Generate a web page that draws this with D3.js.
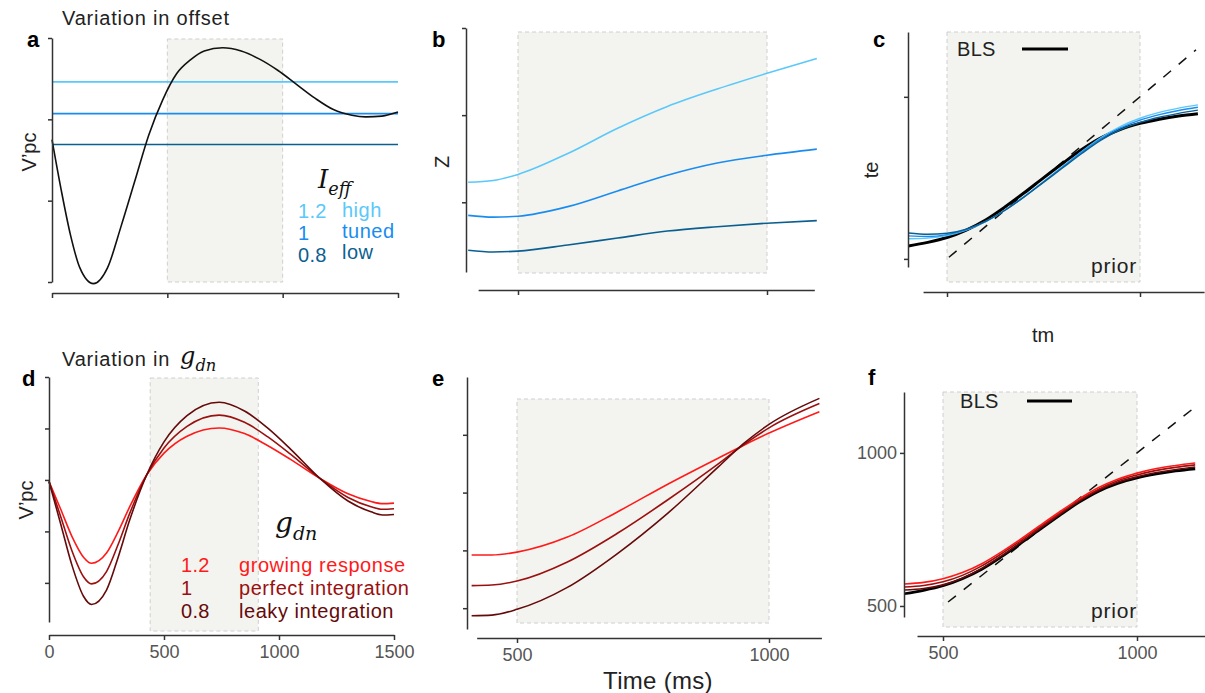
<!DOCTYPE html>
<html>
<head>
<meta charset="utf-8">
<script src="https://cdn.jsdelivr.net/npm/d3@7"></script>
<style>
  body { margin: 0; background: #fff; }
  text { font-family: "Liberation Sans", Arial, sans-serif; }
</style>
</head>
<body>
<svg id="fig" width="1205" height="693"></svg>
<script>
// ---- data ----
var prior = [500, 1000];
var priorD = [440, 910];

// a: V'pc trace and offset lines
var tA = [0, 40, 80, 120, 180, 240, 300, 360, 420, 480, 540, 600, 660, 740, 820, 900, 980, 1060, 1140, 1220, 1300, 1360, 1430, 1500];
var vpcA = [1.75, 1.13, 0.58, 0.18, -0.02, 0.17, 0.69, 1.25, 1.81, 2.24, 2.56, 2.73, 2.84, 2.88, 2.84, 2.74, 2.60, 2.43, 2.26, 2.12, 2.05, 2.03, 2.04, 2.09];
var ieffLevels = ["1.2", "1", "0.8"];
var ieffNames = ["high", "tuned", "low"];
var offsetA = [2.46, 2.07, 1.69];

// b: Z over time for each I_eff
var tB = [400, 450, 500, 600, 700, 800, 900, 1000, 1100];
var zHigh = [1.23, 1.25, 1.32, 1.56, 1.85, 2.10, 2.30, 2.48, 2.65];
var zTuned = [0.85, 0.83, 0.84, 0.95, 1.13, 1.31, 1.45, 1.54, 1.61];
var zLow = [0.45, 0.43, 0.44, 0.51, 0.59, 0.67, 0.72, 0.76, 0.79];

// c, f: te vs tm
var tm = [400, 450, 500, 550, 600, 650, 700, 750, 800, 850, 900, 950, 1000, 1050, 1100, 1150];
var teBLS = [540, 551, 566, 589, 620, 660, 704, 750, 795, 838, 874, 900, 918, 931, 941, 948];
var teHigh = [562, 564, 572, 589, 615, 650, 692, 738, 785, 832, 875, 909, 934, 952, 965, 975];
var teTuned = [571, 569, 575, 590, 615, 650, 692, 738, 784, 830, 872, 904, 928, 945, 958, 968];
var teLow = [580, 576, 579, 592, 616, 650, 691, 736, 781, 826, 867, 899, 921, 937, 949, 959];
var teGrow = [572, 577, 589, 609, 638, 676, 718, 763, 807, 849, 886, 914, 934, 949, 959, 967];
var tePerfect = [562, 567, 579, 600, 631, 670, 713, 758, 802, 845, 881, 909, 928, 943, 953, 961];
var teLeaky = [552, 557, 569, 591, 623, 663, 707, 753, 798, 841, 877, 904, 922, 936, 946, 954];
var identity = [505, 1145];

// d: V'pc for each g_dn
var tD = [0, 50, 100, 150, 185, 250, 300, 350, 425, 500, 600, 740, 850, 950, 1050, 1178, 1300, 1400, 1450, 1500];
var vGrow = [-0.03, -0.56, -1.10, -1.50, -1.62, -1.42, -1.01, -0.53, 0.10, 0.52, 0.85, 1.01, 0.90, 0.67, 0.40, 0.03, -0.27, -0.42, -0.46, -0.45];
var vPerfect = [-0.03, -0.70, -1.38, -1.88, -2.02, -1.78, -1.26, -0.66, 0.10, 0.62, 1.04, 1.26, 1.12, 0.84, 0.50, 0.03, -0.34, -0.52, -0.57, -0.56];
var vLeaky = [-0.03, -0.84, -1.66, -2.26, -2.42, -2.14, -1.51, -0.79, 0.10, 0.74, 1.25, 1.51, 1.34, 1.01, 0.60, 0.03, -0.41, -0.62, -0.68, -0.67];
var gdnLevels = ["1.2", "1", "0.8"];
var gdnNames = ["growing response", "perfect integration", "leaky integration"];

// e: Z over time for each g_dn
var tE = [410, 450, 500, 600, 700, 800, 900, 950, 1000, 1100];
var eGrow = [1.92, 1.92, 1.97, 2.23, 2.67, 3.15, 3.60, 3.82, 4.03, 4.40];
var ePerfect = [1.39, 1.40, 1.47, 1.80, 2.30, 2.88, 3.50, 3.83, 4.12, 4.54];
var eLeaky = [0.87, 0.88, 0.98, 1.36, 1.95, 2.65, 3.45, 3.85, 4.18, 4.63];

var blues = ["#5ac8fa", "#1a8cf0", "#0b5f90"];
var reds = ["#ff1a1a", "#9a1010", "#650a0a"];

// ---- drawing ----
var svg = d3.select("#fig");
var axisColor = "#333";

function shade(x, dom, top, bottom) {
    svg.append("rect")
        .attr("x", x(dom[0])).attr("y", top)
        .attr("width", x(dom[1]) - x(dom[0])).attr("height", bottom - top)
        .style("fill", "#f3f4ef")
        .style("stroke", "#cfcfcf")
        .style("stroke-dasharray", "4,3")
        .style("stroke-width", 1);
}

function styleAxis(g) {
    g.selectAll("path, line").style("stroke", axisColor).style("stroke-width", 1.5);
    g.selectAll("text").style("fill", "#555").style("font-size", "18px");
}

function yAxis(y, xpos, ticks, labels) {
    var ax = d3.axisLeft(y).tickValues(ticks).tickSize(4).tickSizeOuter(0)
        .tickFormat(labels ? d3.format("d") : "");
    var g = svg.append("g").attr("transform", "translate(" + xpos + ",0)").call(ax);
    styleAxis(g);
    g.selectAll("text").attr("x", -7);
}

function xAxis(x, ypos, ext, ticks, labels) {
    var s = x.copy().domain(ext).range(ext.map(x));
    var ax = d3.axisBottom(s).tickValues(ticks).tickSize(5).tickSizeOuter(0)
        .tickFormat(labels ? d3.format("d") : "");
    var g = svg.append("g").attr("transform", "translate(0," + ypos + ")").call(ax);
    styleAxis(g);
    g.selectAll("text").attr("y", 10);
}

function curve(x, y, xs, ys, color, width) {
    var line = d3.line().x(function (d, i) { return x(xs[i]); }).y(function (d) { return y(d); })
        .curve(d3.curveMonotoneX);
    svg.append("path").datum(ys).attr("d", line)
        .style("fill", "none").style("stroke", color).style("stroke-width", width || 1.6);
}

function label(txt, x, y, opts) {
    opts = opts || {};
    var t = svg.append("text").attr("x", x).attr("y", y).text(txt)
        .style("font-size", (opts.size || 20) + "px")
        .style("fill", opts.color || "#222");
    if (opts.bold) t.style("font-weight", "bold");
    if (opts.anchor) t.attr("text-anchor", opts.anchor);
    if (opts.spacing) t.style("letter-spacing", opts.spacing + "px");
    if (opts.rotate) t.attr("transform", "rotate(-90," + x + "," + y + ")");
    return t;
}

function mathLabel(base, sub, x, y, size) {
    var t = svg.append("text").attr("x", x).attr("y", y)
        .style("font-family", "'DejaVu Serif', 'Liberation Serif', serif")
        .style("font-style", "italic").style("fill", "#111");
    t.append("tspan").text(base).style("font-size", size + "px");
    t.append("tspan").text(sub).attr("dy", size * 0.28).style("font-size", (size * 0.68) + "px");
    return t;
}

// panel a
var xa = d3.scaleLinear().domain([0, 1500]).range([52, 398]);
var ya = d3.scaleLinear().domain([0, 3]).range([282, 38]);
shade(xa, prior, 39, 282);
offsetA.forEach(function (v, i) {
    svg.append("line").attr("x1", xa(0)).attr("x2", xa(1500)).attr("y1", ya(v)).attr("y2", ya(v))
        .style("stroke", blues[i]).style("stroke-width", 1.6);
});
curve(xa, ya, tA, vpcA, "#111", 1.6);
yAxis(ya, 52, [0, 1, 2, 3], false);
xAxis(xa, 293, [0, 1500], [0, 500, 1000, 1500], false);
label("Variation in offset", 62, 25, {size: 20, spacing: 0.8});
label("a", 27, 47, {size: 22, bold: true, color: "#000"});
label("V’pc", 36, 152, {size: 20, rotate: true, anchor: "middle"});
mathLabel("I", "eff", 318, 188, 26);
ieffLevels.forEach(function (s, i) {
    label(s, 298, 218 + i * 22, {size: 20, color: blues[i], spacing: 0.3});
    label(ieffNames[i], 342, 217 + i * 21, {size: 20, color: blues[i], spacing: 0.5});
});

// panel b
var xb = d3.scaleLinear().domain([500, 1000]).range([518, 767]);
var yb = d3.scaleLinear().domain([0.2, 3]).range([272, 28]);
shade(xb, prior, 32, 273);
[zHigh, zTuned, zLow].forEach(function (z, i) { curve(xb, yb, tB, z, blues[i], 1.6); });
yAxis(yb, 466, [1, 2, 3], false);
xAxis(xb, 290, [420, 1095], [500, 1000], false);
label("b", 432, 47, {size: 22, bold: true, color: "#000"});
label("Z", 449, 162, {size: 20, rotate: true, anchor: "middle"});

// panel c
var xc = d3.scaleLinear().domain([500, 1000]).range([947, 1140]);
var yc = d3.scaleLinear().domain([475, 1200]).range([267, 32]);
shade(xc, prior, 32, 282);
svg.append("line").attr("x1", xc(identity[0])).attr("y1", yc(identity[0]))
    .attr("x2", xc(identity[1])).attr("y2", yc(identity[1]))
    .style("stroke", "#111").style("stroke-width", 1.5).style("stroke-dasharray", "10,10");
curve(xc, yc, tm, teBLS, "#000", 3);
[teHigh, teTuned, teLow].forEach(function (z, i) { curve(xc, yc, tm, z, blues[i], 1.4); });
yAxis(yc, 908, [500, 1000], false);
xAxis(xc, 292, [438, 1166], [500, 1000], false);
label("c", 873, 47, {size: 22, bold: true, color: "#000"});
label("BLS", 957, 56, {size: 20, spacing: 0.3});
svg.append("line").attr("x1", 1022).attr("x2", 1068).attr("y1", 49).attr("y2", 49)
    .style("stroke", "#000").style("stroke-width", 3);
label("prior", 1137, 273, {size: 21, anchor: "end", spacing: 0.8});
label("te", 878, 170, {size: 20, rotate: true, anchor: "middle"});
label("tm", 1043, 342, {size: 20, anchor: "middle"});

// panel d
var xd = d3.scaleLinear().domain([0, 1500]).range([49, 394]);
var yd = d3.scaleLinear().domain([-2.76, 2]).range([622, 377]);
shade(xd, priorD, 378, 631);
[vGrow, vPerfect, vLeaky].forEach(function (v, i) { curve(xd, yd, tD, v, reds[i], 1.6); });
yAxis(yd, 49, [-2, -1, 0, 1, 2], false);
xAxis(xd, 635, [0, 1500], [0, 500, 1000, 1500], true);
label("Variation in ", 62, 366, {size: 20, spacing: 0.8});
mathLabel("g", "dn", 180, 364, 24);
label("d", 22, 386, {size: 22, bold: true, color: "#000"});
label("V’pc", 33, 500, {size: 20, rotate: true, anchor: "middle"});
mathLabel("g", "dn", 275, 532, 28);
gdnLevels.forEach(function (s, i) {
    label(s, 181, 572 + i * 23, {size: 20, color: reds[i], spacing: 0.3});
    label(gdnNames[i], 239, 572 + i * 23, {size: 20, color: reds[i], spacing: 0.55});
});

// panel e
var xe = d3.scaleLinear().domain([500, 1000]).range([517, 769]);
var ye = d3.scaleLinear().domain([0.64, 5.0]).range([629, 377]);
shade(xe, prior, 399, 623);
[eGrow, ePerfect, eLeaky].forEach(function (v, i) { curve(xe, ye, tE, v, reds[i], 1.6); });
yAxis(ye, 467, [1, 2, 3, 4], false);
xAxis(xe, 638, [420, 1104], [500, 1000], true);
label("e", 432, 386, {size: 22, bold: true, color: "#000"});
label("Time (ms)", 658, 689, {size: 24, anchor: "middle", spacing: 0.3});

// panel f
var xf = d3.scaleLinear().domain([500, 1000]).range([943, 1137]);
var yf = d3.scaleLinear().domain([464, 1199]).range([617, 392]);
shade(xf, prior, 392, 627);
svg.append("line").attr("x1", xf(identity[0] + 8)).attr("y1", yf(identity[0] + 8))
    .attr("x2", xf(identity[1] + 5)).attr("y2", yf(identity[1] + 5))
    .style("stroke", "#111").style("stroke-width", 1.5).style("stroke-dasharray", "10,10");
curve(xf, yf, tm, teBLS, "#000", 2.6);
[teLeaky, tePerfect, teGrow].forEach(function (v, i) { curve(xf, yf, tm, v, reds[2 - i], 1.6); });
yAxis(yf, 904, [500, 1000], true);
xAxis(xf, 636, [433, 1175], [500, 1000], true);
label("f", 868, 385, {size: 22, bold: true, color: "#000"});
label("BLS", 960, 408, {size: 20, spacing: 0.3});
svg.append("line").attr("x1", 1027).attr("x2", 1072).attr("y1", 401).attr("y2", 401)
    .style("stroke", "#000").style("stroke-width", 3);
label("prior", 1137, 618, {size: 21, anchor: "end", spacing: 0.8});
</script>
</body>
</html>
